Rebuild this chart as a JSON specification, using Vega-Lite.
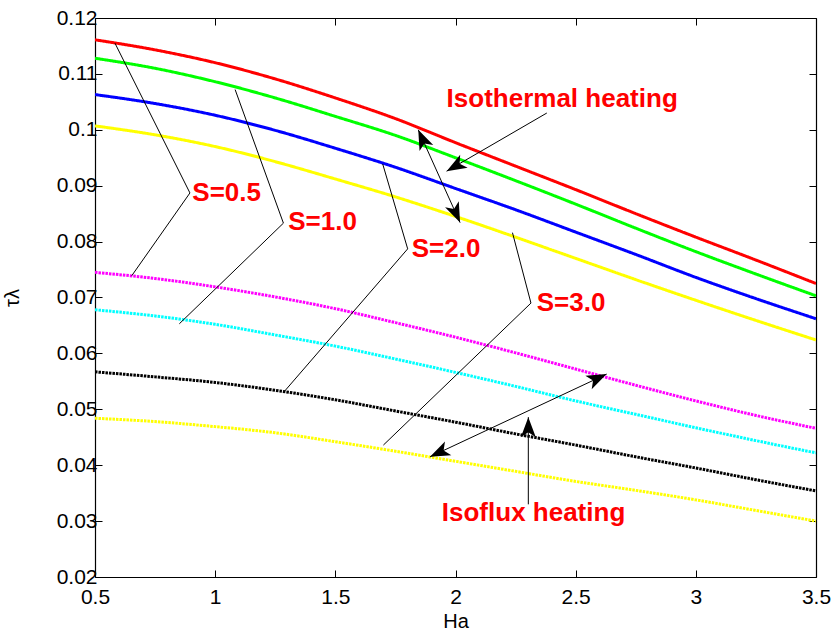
{
  "$schema": "https://vega.github.io/schema/vega-lite/v6.json",
  "width": 721,
  "height": 559,
  "autosize": {"type": "none"},
  "padding": {"left": 95, "top": 18, "right": 24, "bottom": 60},
  "background": "white",
  "config": {
    "view": {"stroke": null},
    "font": "Liberation Sans",
    "axis": {
      "domainColor": "black",
      "domainWidth": 1.2,
      "tickColor": "black",
      "tickSize": -7,
      "tickWidth": 1,
      "labelFontSize": 21,
      "labelColor": "black",
      "labelPadding": 5,
      "labelFlush": false,
      "labelOverlap": false,
      "titleFontSize": 20,
      "titleFontWeight": "normal",
      "titleColor": "black",
      "grid": false
    }
  },
  "datasets": {
    "curves": [
      {"curve": "T05", "heating": "Isothermal", "Ha": 0.5, "tau": 0.1161},
      {"curve": "T05", "heating": "Isothermal", "Ha": 0.75, "tau": 0.1143},
      {"curve": "T05", "heating": "Isothermal", "Ha": 1.0, "tau": 0.1120},
      {"curve": "T05", "heating": "Isothermal", "Ha": 1.25, "tau": 0.1091},
      {"curve": "T05", "heating": "Isothermal", "Ha": 1.5, "tau": 0.1057},
      {"curve": "T05", "heating": "Isothermal", "Ha": 1.75, "tau": 0.1020},
      {"curve": "T05", "heating": "Isothermal", "Ha": 2.0, "tau": 0.0977},
      {"curve": "T05", "heating": "Isothermal", "Ha": 2.25, "tau": 0.0935},
      {"curve": "T05", "heating": "Isothermal", "Ha": 2.5, "tau": 0.0893},
      {"curve": "T05", "heating": "Isothermal", "Ha": 2.75, "tau": 0.0850},
      {"curve": "T05", "heating": "Isothermal", "Ha": 3.0, "tau": 0.0808},
      {"curve": "T05", "heating": "Isothermal", "Ha": 3.25, "tau": 0.0767},
      {"curve": "T05", "heating": "Isothermal", "Ha": 3.5, "tau": 0.0725},

      {"curve": "T10", "heating": "Isothermal", "Ha": 0.5, "tau": 0.1128},
      {"curve": "T10", "heating": "Isothermal", "Ha": 0.75, "tau": 0.1110},
      {"curve": "T10", "heating": "Isothermal", "Ha": 1.0, "tau": 0.1086},
      {"curve": "T10", "heating": "Isothermal", "Ha": 1.25, "tau": 0.1057},
      {"curve": "T10", "heating": "Isothermal", "Ha": 1.5, "tau": 0.1024},
      {"curve": "T10", "heating": "Isothermal", "Ha": 1.75, "tau": 0.0990},
      {"curve": "T10", "heating": "Isothermal", "Ha": 2.0, "tau": 0.0950},
      {"curve": "T10", "heating": "Isothermal", "Ha": 2.25, "tau": 0.0909},
      {"curve": "T10", "heating": "Isothermal", "Ha": 2.5, "tau": 0.0867},
      {"curve": "T10", "heating": "Isothermal", "Ha": 2.75, "tau": 0.0824},
      {"curve": "T10", "heating": "Isothermal", "Ha": 3.0, "tau": 0.0782},
      {"curve": "T10", "heating": "Isothermal", "Ha": 3.25, "tau": 0.0742},
      {"curve": "T10", "heating": "Isothermal", "Ha": 3.5, "tau": 0.0703},

      {"curve": "T20", "heating": "Isothermal", "Ha": 0.5, "tau": 0.1063},
      {"curve": "T20", "heating": "Isothermal", "Ha": 0.75, "tau": 0.1047},
      {"curve": "T20", "heating": "Isothermal", "Ha": 1.0, "tau": 0.1026},
      {"curve": "T20", "heating": "Isothermal", "Ha": 1.25, "tau": 0.0999},
      {"curve": "T20", "heating": "Isothermal", "Ha": 1.5, "tau": 0.0967},
      {"curve": "T20", "heating": "Isothermal", "Ha": 1.75, "tau": 0.0933},
      {"curve": "T20", "heating": "Isothermal", "Ha": 2.0, "tau": 0.0895},
      {"curve": "T20", "heating": "Isothermal", "Ha": 2.25, "tau": 0.0857},
      {"curve": "T20", "heating": "Isothermal", "Ha": 2.5, "tau": 0.0817},
      {"curve": "T20", "heating": "Isothermal", "Ha": 2.75, "tau": 0.0777},
      {"curve": "T20", "heating": "Isothermal", "Ha": 3.0, "tau": 0.0736},
      {"curve": "T20", "heating": "Isothermal", "Ha": 3.25, "tau": 0.0698},
      {"curve": "T20", "heating": "Isothermal", "Ha": 3.5, "tau": 0.0662},

      {"curve": "T30", "heating": "Isothermal", "Ha": 0.5, "tau": 0.1007},
      {"curve": "T30", "heating": "Isothermal", "Ha": 0.75, "tau": 0.0991},
      {"curve": "T30", "heating": "Isothermal", "Ha": 1.0, "tau": 0.0970},
      {"curve": "T30", "heating": "Isothermal", "Ha": 1.25, "tau": 0.0943},
      {"curve": "T30", "heating": "Isothermal", "Ha": 1.5, "tau": 0.0912},
      {"curve": "T30", "heating": "Isothermal", "Ha": 1.75, "tau": 0.0880},
      {"curve": "T30", "heating": "Isothermal", "Ha": 2.0, "tau": 0.0845},
      {"curve": "T30", "heating": "Isothermal", "Ha": 2.25, "tau": 0.0808},
      {"curve": "T30", "heating": "Isothermal", "Ha": 2.5, "tau": 0.0770},
      {"curve": "T30", "heating": "Isothermal", "Ha": 2.75, "tau": 0.0732},
      {"curve": "T30", "heating": "Isothermal", "Ha": 3.0, "tau": 0.0695},
      {"curve": "T30", "heating": "Isothermal", "Ha": 3.25, "tau": 0.0659},
      {"curve": "T30", "heating": "Isothermal", "Ha": 3.5, "tau": 0.0624},

      {"curve": "F05", "heating": "Isoflux", "Ha": 0.5, "tau": 0.0745},
      {"curve": "F05", "heating": "Isoflux", "Ha": 0.75, "tau": 0.0734},
      {"curve": "F05", "heating": "Isoflux", "Ha": 1.0, "tau": 0.0719},
      {"curve": "F05", "heating": "Isoflux", "Ha": 1.25, "tau": 0.0701},
      {"curve": "F05", "heating": "Isoflux", "Ha": 1.5, "tau": 0.0680},
      {"curve": "F05", "heating": "Isoflux", "Ha": 1.75, "tau": 0.0655},
      {"curve": "F05", "heating": "Isoflux", "Ha": 2.0, "tau": 0.0629},
      {"curve": "F05", "heating": "Isoflux", "Ha": 2.25, "tau": 0.0601},
      {"curve": "F05", "heating": "Isoflux", "Ha": 2.5, "tau": 0.0572},
      {"curve": "F05", "heating": "Isoflux", "Ha": 2.75, "tau": 0.0543},
      {"curve": "F05", "heating": "Isoflux", "Ha": 3.0, "tau": 0.0515},
      {"curve": "F05", "heating": "Isoflux", "Ha": 3.25, "tau": 0.0489},
      {"curve": "F05", "heating": "Isoflux", "Ha": 3.5, "tau": 0.0466},

      {"curve": "F10", "heating": "Isoflux", "Ha": 0.5, "tau": 0.0678},
      {"curve": "F10", "heating": "Isoflux", "Ha": 0.75, "tau": 0.0667},
      {"curve": "F10", "heating": "Isoflux", "Ha": 1.0, "tau": 0.0652},
      {"curve": "F10", "heating": "Isoflux", "Ha": 1.25, "tau": 0.0633},
      {"curve": "F10", "heating": "Isoflux", "Ha": 1.5, "tau": 0.0613},
      {"curve": "F10", "heating": "Isoflux", "Ha": 1.75, "tau": 0.0590},
      {"curve": "F10", "heating": "Isoflux", "Ha": 2.0, "tau": 0.0566},
      {"curve": "F10", "heating": "Isoflux", "Ha": 2.25, "tau": 0.0541},
      {"curve": "F10", "heating": "Isoflux", "Ha": 2.5, "tau": 0.0515},
      {"curve": "F10", "heating": "Isoflux", "Ha": 2.75, "tau": 0.0491},
      {"curve": "F10", "heating": "Isoflux", "Ha": 3.0, "tau": 0.0467},
      {"curve": "F10", "heating": "Isoflux", "Ha": 3.25, "tau": 0.0444},
      {"curve": "F10", "heating": "Isoflux", "Ha": 3.5, "tau": 0.0422},

      {"curve": "F20", "heating": "Isoflux", "Ha": 0.5, "tau": 0.0567},
      {"curve": "F20", "heating": "Isoflux", "Ha": 0.75, "tau": 0.0558},
      {"curve": "F20", "heating": "Isoflux", "Ha": 1.0, "tau": 0.0548},
      {"curve": "F20", "heating": "Isoflux", "Ha": 1.25, "tau": 0.0534},
      {"curve": "F20", "heating": "Isoflux", "Ha": 1.5, "tau": 0.0517},
      {"curve": "F20", "heating": "Isoflux", "Ha": 1.75, "tau": 0.0497},
      {"curve": "F20", "heating": "Isoflux", "Ha": 2.0, "tau": 0.0477},
      {"curve": "F20", "heating": "Isoflux", "Ha": 2.25, "tau": 0.0456},
      {"curve": "F20", "heating": "Isoflux", "Ha": 2.5, "tau": 0.0436},
      {"curve": "F20", "heating": "Isoflux", "Ha": 2.75, "tau": 0.0415},
      {"curve": "F20", "heating": "Isoflux", "Ha": 3.0, "tau": 0.0395},
      {"curve": "F20", "heating": "Isoflux", "Ha": 3.25, "tau": 0.0374},
      {"curve": "F20", "heating": "Isoflux", "Ha": 3.5, "tau": 0.0354},

      {"curve": "F30", "heating": "Isoflux", "Ha": 0.5, "tau": 0.0484},
      {"curve": "F30", "heating": "Isoflux", "Ha": 0.75, "tau": 0.0478},
      {"curve": "F30", "heating": "Isoflux", "Ha": 1.0, "tau": 0.0469},
      {"curve": "F30", "heating": "Isoflux", "Ha": 1.25, "tau": 0.0458},
      {"curve": "F30", "heating": "Isoflux", "Ha": 1.5, "tau": 0.0442},
      {"curve": "F30", "heating": "Isoflux", "Ha": 1.75, "tau": 0.0425},
      {"curve": "F30", "heating": "Isoflux", "Ha": 2.0, "tau": 0.0407},
      {"curve": "F30", "heating": "Isoflux", "Ha": 2.25, "tau": 0.0389},
      {"curve": "F30", "heating": "Isoflux", "Ha": 2.5, "tau": 0.0371},
      {"curve": "F30", "heating": "Isoflux", "Ha": 2.75, "tau": 0.0355},
      {"curve": "F30", "heating": "Isoflux", "Ha": 3.0, "tau": 0.0338},
      {"curve": "F30", "heating": "Isoflux", "Ha": 3.25, "tau": 0.0319},
      {"curve": "F30", "heating": "Isoflux", "Ha": 3.5, "tau": 0.0300}
    ],
    "leaders": [
      {"x1": 0.583, "y1": 0.1155, "x2": 0.895, "y2": 0.0887},
      {"x1": 0.895, "y1": 0.0887, "x2": 0.653, "y2": 0.0739},
      {"x1": 1.083, "y1": 0.1072, "x2": 1.284, "y2": 0.0833},
      {"x1": 1.284, "y1": 0.0833, "x2": 0.851, "y2": 0.0653},
      {"x1": 1.697, "y1": 0.0939, "x2": 1.801, "y2": 0.0787},
      {"x1": 1.801, "y1": 0.0787, "x2": 1.284, "y2": 0.0530},
      {"x1": 2.237, "y1": 0.0816, "x2": 2.314, "y2": 0.0690},
      {"x1": 2.314, "y1": 0.0690, "x2": 1.700, "y2": 0.0436},
      {"x1": 2.380, "y1": 0.1030, "x2": 1.963, "y2": 0.0926},
      {"x1": 1.845, "y1": 0.1000, "x2": 2.019, "y2": 0.0834},
      {"x1": 2.303, "y1": 0.0330, "x2": 2.303, "y2": 0.0486},
      {"x1": 1.894, "y1": 0.0415, "x2": 2.629, "y2": 0.0563}
    ],
    "labels": [
      {"label": "S=0.5", "Ha": 0.905, "tau": 0.0887},
      {"label": "S=1.0", "Ha": 1.304, "tau": 0.0835},
      {"label": "S=2.0", "Ha": 1.818, "tau": 0.0787},
      {"label": "S=3.0", "Ha": 2.338, "tau": 0.0690},
      {"label": "Isothermal heating", "Ha": 1.963, "tau": 0.1055},
      {"label": "Isoflux heating", "Ha": 1.943, "tau": 0.0314}
    ]
  },
  "resolve": {"axis": {"x": "independent", "y": "independent"}},
  "layer": [
    {
      "data": {"name": "curves"},
      "mark": {"type": "line", "strokeWidth": 3, "interpolate": "monotone", "clip": true},
      "encoding": {
        "x": {
          "field": "Ha", "type": "quantitative",
          "scale": {"domain": [0.5, 3.5], "nice": false, "zero": false},
          "axis": {"orient": "bottom", "values": [0.5, 1, 1.5, 2, 2.5, 3, 3.5], "format": "~g", "title": "Ha", "labelPadding": 16, "titlePadding": 4}
        },
        "y": {
          "field": "tau", "type": "quantitative",
          "scale": {"domain": [0.02, 0.12], "nice": false, "zero": false},
          "axis": {"orient": "left", "values": [0.02, 0.03, 0.04, 0.05, 0.06, 0.07, 0.08, 0.09, 0.1, 0.11, 0.12], "format": "~g", "title": "τλ", "titlePadding": 34}
        },
        "color": {
          "field": "curve", "type": "nominal",
          "scale": {"domain": ["T05", "T10", "T20", "T30", "F05", "F10", "F20", "F30"], "range": ["#ff0000", "#00ff00", "#0000ff", "#ffff00", "#ff00ff", "#00ffff", "#000000", "#ffff00"]},
          "legend": null
        },
        "strokeDash": {
          "field": "heating", "type": "nominal",
          "scale": {"domain": ["Isothermal", "Isoflux"], "range": [[1, 0], [2.5, 1]]},
          "legend": null
        }
      }
    },
    {
      "data": {"name": "leaders"},
      "mark": {"type": "rule", "color": "black", "strokeWidth": 1},
      "encoding": {
        "x": {"field": "x1", "type": "quantitative", "axis": {"orient": "top", "labels": false, "title": null, "values": [0.5, 1, 1.5, 2, 2.5, 3, 3.5]}},
        "x2": {"field": "x2"},
        "y": {"field": "y1", "type": "quantitative", "axis": {"orient": "right", "labels": false, "title": null, "values": [0.02, 0.03, 0.04, 0.05, 0.06, 0.07, 0.08, 0.09, 0.1, 0.11, 0.12]}},
        "y2": {"field": "y2"}
      }
    },
    {
      "data": {"name": "labels"},
      "mark": {"type": "text", "align": "left", "baseline": "middle", "fontWeight": "bold", "fontSize": 26, "color": "#ff0000", "font": "Liberation Sans"},
      "encoding": {
        "x": {"field": "Ha", "type": "quantitative", "axis": null},
        "y": {"field": "tau", "type": "quantitative", "axis": null},
        "text": {"field": "label"}
      }
    },
    {
      "data": {"values": [{"Ha": 1.963, "tau": 0.0926}]},
      "mark": {"type": "point", "filled": true, "opacity": 1, "color": "black", "size": 400, "shape": "M0,0L-0.75,2L0,1.5L0.75,2Z", "angle": 240},
      "encoding": {"x": {"field": "Ha", "type": "quantitative", "axis": null}, "y": {"field": "tau", "type": "quantitative", "axis": null}}
    },
    {
      "data": {"values": [{"Ha": 1.845, "tau": 0.1000}]},
      "mark": {"type": "point", "filled": true, "opacity": 1, "color": "black", "size": 400, "shape": "M0,0L-0.75,2L0,1.5L0.75,2Z", "angle": 336},
      "encoding": {"x": {"field": "Ha", "type": "quantitative", "axis": null}, "y": {"field": "tau", "type": "quantitative", "axis": null}}
    },
    {
      "data": {"values": [{"Ha": 2.019, "tau": 0.0834}]},
      "mark": {"type": "point", "filled": true, "opacity": 1, "color": "black", "size": 400, "shape": "M0,0L-0.75,2L0,1.5L0.75,2Z", "angle": 156},
      "encoding": {"x": {"field": "Ha", "type": "quantitative", "axis": null}, "y": {"field": "tau", "type": "quantitative", "axis": null}}
    },
    {
      "data": {"values": [{"Ha": 2.303, "tau": 0.0486}]},
      "mark": {"type": "point", "filled": true, "opacity": 1, "color": "black", "size": 400, "shape": "M0,0L-0.75,2L0,1.5L0.75,2Z", "angle": 0},
      "encoding": {"x": {"field": "Ha", "type": "quantitative", "axis": null}, "y": {"field": "tau", "type": "quantitative", "axis": null}}
    },
    {
      "data": {"values": [{"Ha": 2.629, "tau": 0.0563}]},
      "mark": {"type": "point", "filled": true, "opacity": 1, "color": "black", "size": 400, "shape": "M0,0L-0.75,2L0,1.5L0.75,2Z", "angle": 65},
      "encoding": {"x": {"field": "Ha", "type": "quantitative", "axis": null}, "y": {"field": "tau", "type": "quantitative", "axis": null}}
    },
    {
      "data": {"values": [{"Ha": 1.894, "tau": 0.0415}]},
      "mark": {"type": "point", "filled": true, "opacity": 1, "color": "black", "size": 400, "shape": "M0,0L-0.75,2L0,1.5L0.75,2Z", "angle": 245},
      "encoding": {"x": {"field": "Ha", "type": "quantitative", "axis": null}, "y": {"field": "tau", "type": "quantitative", "axis": null}}
    }
  ]
}
